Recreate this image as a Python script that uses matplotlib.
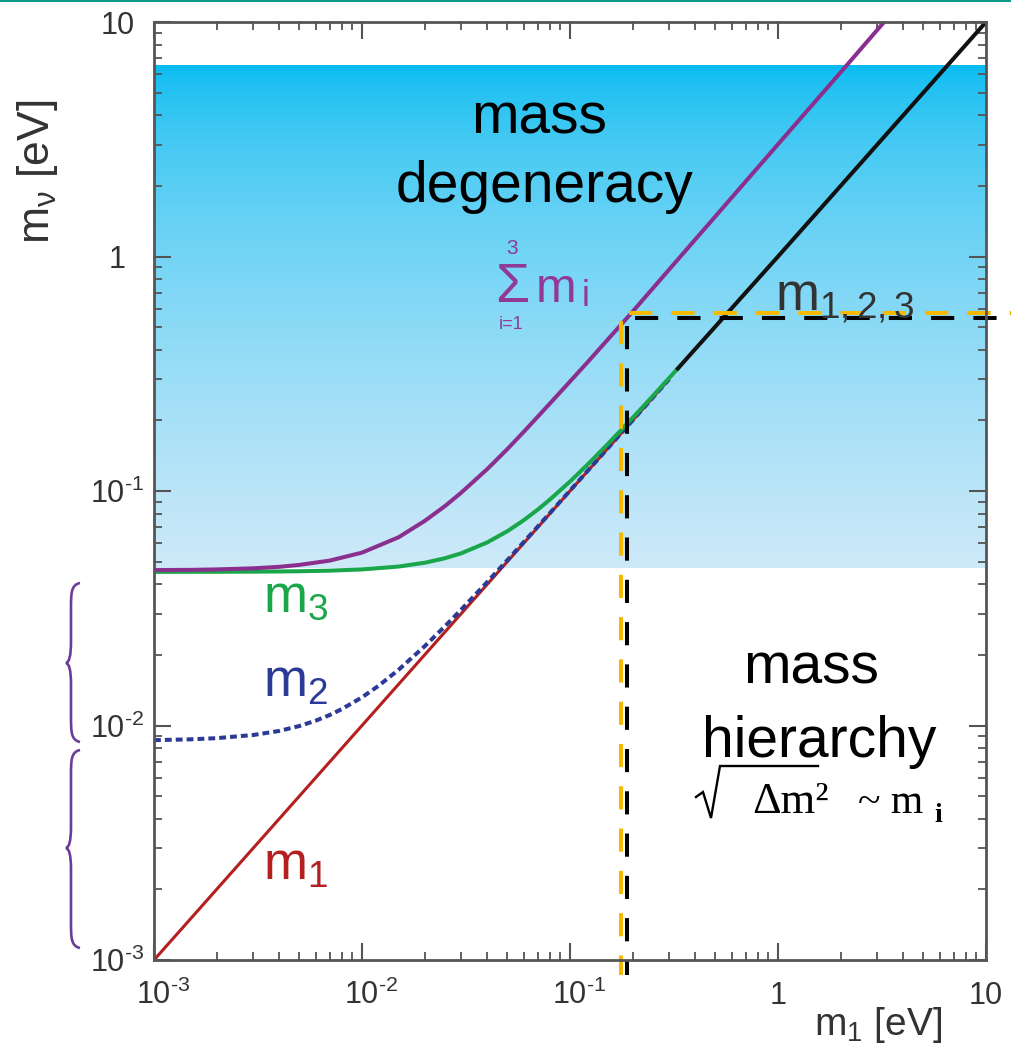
import numpy as np
import matplotlib
matplotlib.use("Agg")
import matplotlib.pyplot as plt
from matplotlib.path import Path
from matplotlib.patches import PathPatch
from matplotlib.lines import Line2D
import matplotlib.transforms as mtransforms

plt.rcParams['font.family'] = ['Liberation Sans', 'DejaVu Sans']
plt.rcParams['mathtext.fontset'] = 'custom'
plt.rcParams['mathtext.rm'] = 'Liberation Sans'
plt.rcParams['mathtext.it'] = 'Liberation Sans'
plt.rcParams['mathtext.bf'] = 'Liberation Sans:bold'

# ---------------- data ----------------
m1_x = [0.001, 0.01, 0.1, 0.3]
m1_y = [0.001, 0.01, 0.1, 0.3]

m2_x = [0.001, 0.0015, 0.002, 0.003, 0.004, 0.005, 0.006, 0.007, 0.008, 0.01, 0.012, 0.015,
        0.02, 0.025, 0.03, 0.04, 0.05, 0.07, 0.1, 0.15, 0.2, 0.3]
m2_y = [0.00866, 0.00873, 0.00883, 0.00911, 0.00948, 0.00995, 0.01049, 0.01109, 0.01175,
        0.01319, 0.01476, 0.01729, 0.02177, 0.02644, 0.03121, 0.04091, 0.05073, 0.07053,
        0.10037, 0.1502, 0.2002, 0.3001]

m3_x = [0.001, 0.002, 0.003, 0.004, 0.005, 0.007, 0.01, 0.015, 0.02, 0.025, 0.03, 0.04,
        0.05, 0.06, 0.07, 0.08, 0.1, 0.12, 0.15, 0.2, 0.25, 0.33]
m3_y = [0.04521, 0.04524, 0.04530, 0.04538, 0.04548, 0.04574, 0.04629, 0.04762, 0.04943,
        0.05165, 0.05425, 0.06036, 0.06740, 0.07512, 0.08332, 0.09189, 0.10974, 0.12823,
        0.15666, 0.20504, 0.25405, 0.33308]

sum_x = [0.001, 0.0015, 0.002, 0.003, 0.004, 0.005, 0.007, 0.01, 0.015, 0.02, 0.025, 0.03,
         0.04, 0.05, 0.06, 0.07, 0.08, 0.1, 0.12, 0.15, 0.2, 0.3, 0.5, 1.0, 2.0, 3.3]
sum_y = [0.0460, 0.0461, 0.0463, 0.0468, 0.0475, 0.0484, 0.0505, 0.0546, 0.0635, 0.0745,
         0.0861, 0.0984, 0.124, 0.151, 0.179, 0.2075, 0.236, 0.293, 0.350, 0.437, 0.582,
         0.881, 1.483, 3.01, 6.10, 10.2]

deg_x = [0.33, 1.0, 3.0, 10.0]
deg_y = [0.333, 1.0, 3.0, 10.0]

band_lo, band_hi = 0.047, 6.56          # shaded "mass degeneracy" region
cut_black = (0.188, 0.547)              # dashed boundary (black)
cut_yellow = (0.176, 0.574)             # dashed boundary (yellow)

xtick_vals = [1e-3, 1e-2, 1e-1, 1, 10]
xtick_labels = ['$10^{\\text{-3}}$', '$10^{\\text{-2}}$', '$10^{\\text{-1}}$', '1', '10']
ytick_vals = [1e-3, 1e-2, 1e-1, 1, 10]
ytick_labels = ['$10^{\\text{-3}}$', '$10^{\\text{-2}}$', '$10^{\\text{-1}}$', '1', '10']

# ---------------- figure ----------------
W, H = 1012, 1047
fig = plt.figure(figsize=(W / 100, H / 100), dpi=100)
def F(x, y):
    return (x / W, 1 - y / H)

ax = fig.add_axes([154 / W, 1 - 960 / H, (986 - 154) / W, (960 - 22) / H])
ax.set_xscale('log')
ax.set_yscale('log')
ax.set_xlim(1e-3, 10)
ax.set_ylim(1e-3, 10)

# gradient band
top = np.array([0, 185, 240]) / 255
bot = np.array([205, 233, 248]) / 255
edges = np.logspace(np.log10(band_lo), np.log10(band_hi), 181)
for i in range(len(edges) - 1):
    t = 1 - (np.log10(edges[i]) - np.log10(band_lo)) / (np.log10(band_hi) - np.log10(band_lo))
    f = t ** 0.6
    c = top + (bot - top) * f
    ax.axhspan(edges[i], edges[i + 1], color=c, lw=0, antialiased=False, zorder=0)

# curves
ax.plot(m1_x, m1_y, color='#b3201f', lw=2.2, zorder=2, solid_capstyle='butt')
ax.plot(m2_x, m2_y, color='#2b3a96', lw=2.9, ls=(0, (1.7, 1.0)), zorder=3)
ax.plot(m3_x, m3_y, color='#1aa64a', lw=2.9, zorder=4)
ax.plot(deg_x, deg_y, color='#111111', lw=2.9, zorder=4)
ax.plot(sum_x, sum_y, color='#8b2f8f', lw=2.9, zorder=5)

# dashed boundaries
ybot_ext = 8.6e-4
xright_ext = 13.3
for (cx, cy), col, z in [(cut_black, '#000000', 6), (cut_yellow, '#f7b800', 7)]:
    ls = (8.5, (5.75, 4.75))
    ax.plot([cx, cx], [cy, ybot_ext], color=col, lw=2.9, ls=ls, clip_on=False, zorder=z)
    ax.plot([cx, xright_ext], [cy, cy], color=col, lw=2.9, ls=ls, clip_on=False, zorder=z)

# axes styling
for s in ax.spines.values():
    s.set_color('#555555')
    s.set_linewidth(2.0)
    s.set_zorder(8)
ax.tick_params(which='both', direction='in', top=True, right=True, color='#555555',
               labelcolor='#333333', labelsize=22)
ax.tick_params(which='major', length=12, width=1.5)
ax.tick_params(which='minor', length=5.8, width=1.3)
ax.set_xticks(xtick_vals)
ax.set_xticklabels(xtick_labels)
ax.set_yticks(ytick_vals)
ax.set_yticklabels(ytick_labels)
ax.tick_params(axis='x', pad=32)
ax.tick_params(axis='y', pad=26.5)
for lab in ax.get_xticklabels():
    lab.set_verticalalignment('baseline')
for lab in ax.get_xticklabels()[:3]:
    lab.set_transform(lab.get_transform() + mtransforms.ScaledTranslation(9 / 100, 0, fig.dpi_scale_trans))
for lab in ax.get_yticklabels():
    lab.set_horizontalalignment('center')

# axis labels
fig.text(*F(38, 172), 'm$_{\\nu}$ [eV]', rotation=90, ha='center', va='center',
         fontsize=32, color='#333333')
fig.text(*F(878, 1035), 'm$_1$ [eV]', ha='center', va='baseline', fontsize=28, color='#333333')

# big annotations
fig.text(*F(539, 133), 'mass', ha='center', va='baseline', fontsize=41, color='black')
fig.text(*F(544, 202), 'degeneracy', ha='center', va='baseline', fontsize=41, color='black')
fig.text(*F(811, 683), 'mass', ha='center', va='baseline', fontsize=41, color='black')
fig.text(*F(819, 757), 'hierarchy', ha='center', va='baseline', fontsize=41, color='black')

# sqrt(Δm²) ~ m_i  (radical drawn as a line)
serif = ['Liberation Serif', 'DejaVu Serif']
rad = [(696, 797), (703, 792), (711, 818), (720, 766), (818, 766)]
fig.add_artist(Line2D([p[0] / W for p in rad], [1 - p[1] / H for p in rad],
                      transform=fig.transFigure, color='black', lw=1.7,
                      solid_joinstyle='miter'))
fig.text(*F(752, 813), '\u0394m\u00b2', ha='left', va='baseline', fontsize=32, family=serif, color='black')
fig.text(*F(858, 813), '~ m', ha='left', va='baseline', fontsize=30, family=serif, color='black')
fig.text(*F(934, 822), 'i', ha='left', va='baseline', fontsize=20, family=serif,
         weight='bold', color='black')

# sum label
pc = '#913a95'
fig.text(*F(512, 254), '3', ha='center', va='baseline', fontsize=15, color=pc)
fig.text(*F(512, 302), '\u03a3', ha='center', va='baseline', fontsize=40, color=pc)
fig.text(*F(511, 329), 'i=1', ha='center', va='baseline', fontsize=13, color=pc)
fig.text(*F(536, 302), 'm', ha='left', va='baseline', fontsize=35, color=pc)
fig.text(*F(582, 306), 'i', ha='left', va='baseline', fontsize=26, color=pc)

# curve labels
fig.text(*F(263, 612), 'm$_3$', ha='left', va='baseline', fontsize=38, color='#1aa64a')
fig.text(*F(263, 697), 'm$_2$', ha='left', va='baseline', fontsize=38, color='#2b3a96')
fig.text(*F(263, 880), 'm$_1$', ha='left', va='baseline', fontsize=38, color='#b3201f')
fig.text(*F(775, 310), 'm$_{1,2,3}$', ha='left', va='baseline', fontsize=38, color='#333333')

# braces on the left
def brace(y0, y1, ym, x_end=80, x_mid=71, x_tip=66):
    pts = [(x_end, y0),
           (x_mid, y0 + 2), (x_mid, y0 + 10), (x_mid, y0 + 26),
           (x_mid, ym - 22),
           (x_mid, ym - 6), (x_tip + 3, ym - 1), (x_tip, ym),
           (x_tip + 3, ym + 1), (x_mid, ym + 6), (x_mid, ym + 22),
           (x_mid, y1 - 26),
           (x_mid, y1 - 10), (x_mid, y1 - 2), (x_end, y1)]
    codes = [Path.MOVETO,
             Path.CURVE4, Path.CURVE4, Path.CURVE4,
             Path.LINETO,
             Path.CURVE4, Path.CURVE4, Path.CURVE4,
             Path.CURVE4, Path.CURVE4, Path.CURVE4,
             Path.LINETO,
             Path.CURVE4, Path.CURVE4, Path.CURVE4]
    verts = [F(x, y) for x, y in pts]
    p = PathPatch(Path(verts, codes), transform=fig.transFigure, fill=False,
                  edgecolor='#6a3d9a', lw=1.9)
    fig.add_artist(p)

brace(583, 742, 663)
brace(750, 948, 848)

# teal line at the top
fig.add_artist(Line2D([0, 1], [1 - 1 / H] * 2, transform=fig.transFigure, color='#0b9c8c', lw=1.5))

fig.savefig('out.png', dpi=100)
